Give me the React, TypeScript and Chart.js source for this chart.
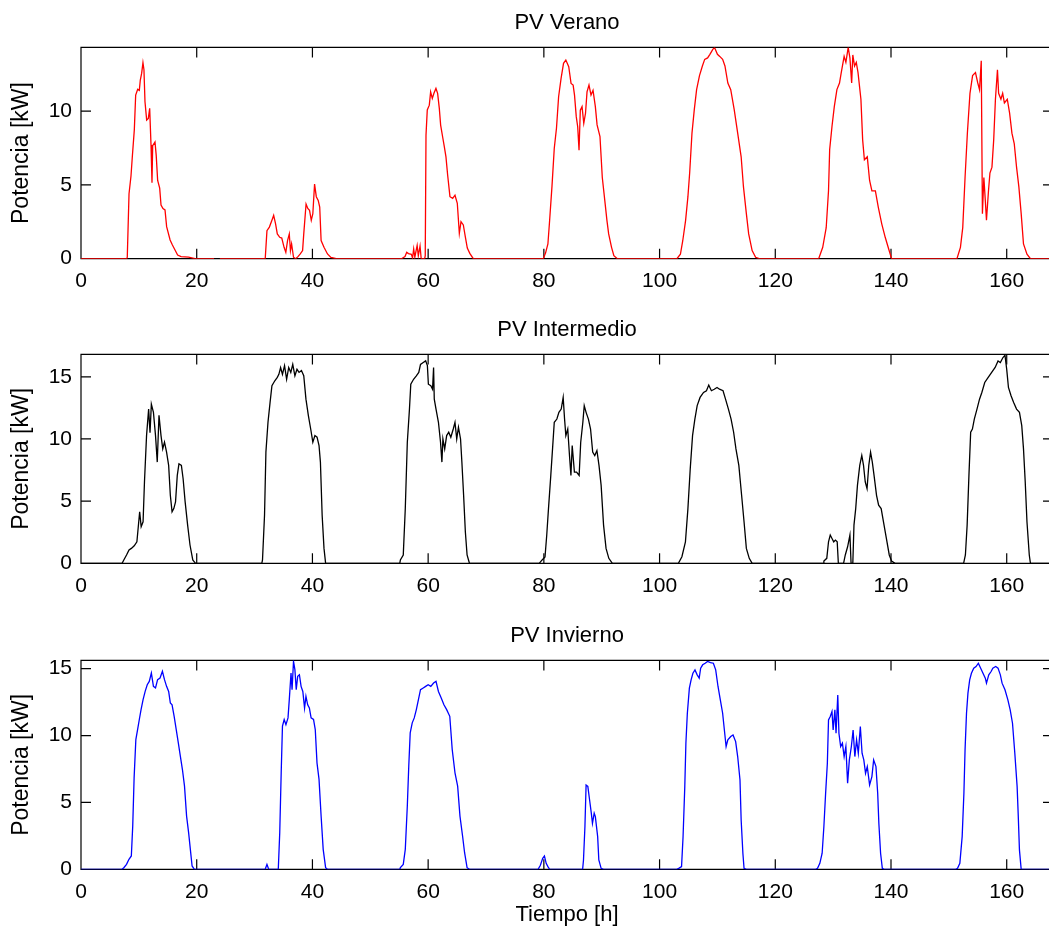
import React, { useEffect, useRef } from "react";
import { Chart, registerables } from "chart.js";

Chart.register(...registerables);

// ---------- DATA ----------
const xTickStep = 20;
const yTickStep = 5;
const xMax = 168;

const panelTitles = ["PV Verano", "PV Intermedio", "PV Invierno"];
const yLabel = "Potencia [kW]";
const xLabel = "Tiempo [h]";

const veranoHours = [0,7.9,8.0,8.3,8.64,8.87,9.22,9.45,9.8,10.08,10.25,10.48,10.71,10.88,11.06,11.35,11.64,11.87,12.1,12.27,12.39,12.79,13.0,13.25,13.6,13.83,14.17,14.52,14.8,15.4,15.8,16.25,16.7,17.3,18.6,19.7,23.0,23.5,24.0,31.84,32.14,32.56,33.0,33.3,33.63,33.93,34.35,34.7,35.1,35.4,35.7,36.0,36.2,36.4,36.73,37.1,37.5,37.9,38.3,38.5,38.9,39.2,39.5,39.8,40.07,40.37,40.67,41.0,41.26,41.5,42.0,42.6,43.2,44.1,55.4,56.0,56.3,56.6,57.1,57.3,57.5,57.7,58.1,58.3,58.6,58.8,59.4,59.5,59.63,59.85,60.2,60.43,60.72,61.0,61.35,61.64,61.93,62.16,62.5,62.8,63.08,63.37,63.77,64.24,64.64,65.04,65.39,65.68,66.08,66.42,66.77,67.2,67.8,79.9,80.3,80.7,81.0,81.4,81.8,82.18,82.55,82.97,83.4,83.8,84.3,84.7,85.06,85.3,85.6,85.85,86.08,86.3,86.6,86.9,87.2,87.46,87.8,88.15,88.5,88.9,89.2,89.7,90.1,90.6,90.9,91.2,91.7,92.1,92.7,103.0,103.6,104.0,104.5,104.9,105.2,105.6,106.0,106.4,106.9,107.4,107.8,108.3,108.7,109.2,109.5,110.0,110.4,110.9,111.3,111.8,112.3,112.9,113.5,114.1,114.5,115.0,115.4,116.0,116.6,117.2,127.5,128.2,128.8,129.2,129.4,129.8,130.2,130.65,131.1,131.4,131.9,132.2,132.6,132.9,133.2,133.4,133.7,134.0,134.3,134.8,135.1,135.4,135.9,136.3,136.7,137.3,137.8,138.4,139.0,139.6,140.1,151.4,152.0,152.4,152.8,153.2,153.65,154.1,154.6,155.0,155.3,155.6,155.8,156.05,156.3,156.5,156.85,157.1,157.45,157.75,158.05,158.4,158.6,159.0,159.3,159.6,160.1,160.5,160.9,161.3,161.7,162.1,162.5,162.9,163.5,164.1,168];
const veranoKW = [0,0,0.1,4.4,5.6,6.9,8.76,11.08,11.47,11.4,12.1,12.55,13.27,12.8,10.63,9.39,9.5,10.18,7.7,5.15,7.65,7.9,7.0,5.3,4.78,3.64,3.4,3.3,2.17,1.27,0.93,0.59,0.25,0.14,0.1,0,0,null,0,0,1.9,2.14,2.6,2.93,2.36,1.68,1.45,1.4,0.77,0.43,1.23,1.68,0.55,1.0,0.1,0,0.14,0.32,0.55,1.68,3.7,3.4,3.27,2.6,3.05,5.05,4.2,3.95,3.5,1.23,0.77,0.32,0.09,0,0,0.15,0.43,0.35,0.3,0.05,0.66,0.1,0.9,0.2,0.85,0,0,0.2,8.37,10.07,10.4,11.3,10.86,11.2,11.53,11.2,10.18,9.05,8.26,7.58,6.9,5.67,4.2,4.09,4.3,3.75,1.72,2.51,2.29,1.5,0.72,0.36,0,0,0.4,1.0,2.6,4.88,7.48,8.83,10.97,12.2,13.23,13.45,13.0,11.87,11.76,11.08,9.62,8.94,7.35,10.06,10.3,9.17,9.85,11.3,11.76,11.08,11.4,10.3,9.06,8.27,5.5,3.7,2.6,1.68,0.77,0.2,0,0,0.3,1.2,2.6,4.2,5.8,8.5,10.1,11.45,12.4,13.05,13.5,13.6,13.84,14.18,14.3,13.84,13.7,13.5,13.05,11.9,11.45,10.1,8.5,6.9,4.86,3.05,1.68,0.55,0.1,0,0,0.77,2.1,4.6,7.4,8.95,10.3,11.45,11.9,12.6,13.7,13.3,14.3,13.6,11.9,13.8,13.05,13.3,12.6,10.8,8.05,6.7,6.9,5.3,4.6,4.6,3.5,2.36,1.45,0.66,0,0,0.77,2.1,5.5,8.5,11.2,12.4,12.6,11.9,11.45,13.4,3.05,5.5,3.95,2.6,4.6,5.8,6.2,8.05,10.8,12.8,11.2,10.8,11.2,10.55,10.8,9.86,8.5,7.8,6.2,4.86,3.05,1.0,0.3,0,0];

const intermedioHours = [0,7.1,7.4,7.87,8.3,8.7,9.2,9.66,9.9,10.14,10.4,10.73,10.97,11.33,11.69,11.93,12.16,12.52,12.88,13.18,13.48,13.83,14.13,14.43,14.79,15.15,15.44,15.74,16.04,16.34,16.64,16.93,17.35,17.65,18.0,18.43,18.84,19.32,19.8,31.25,31.37,31.72,31.96,32.32,32.68,33.0,33.5,33.93,34.2,34.5,34.82,35.18,35.54,35.9,36.26,36.6,36.97,37.33,37.69,38.1,38.5,38.88,39.3,39.7,40.07,40.43,40.8,41.14,41.38,41.68,42.0,42.28,55.1,55.2,55.7,56.05,56.4,56.77,57.0,57.48,57.96,58.38,58.68,59.15,59.57,59.87,60.04,60.46,60.76,60.94,61.06,61.36,61.78,62.14,62.38,62.55,62.86,63.2,63.56,63.92,64.34,64.64,64.94,65.24,65.6,65.83,66.13,66.43,66.73,67.14,79.2,79.7,80.2,80.5,80.8,81.2,81.5,81.8,82.25,82.6,83.0,83.34,83.58,83.8,84.13,84.43,84.68,84.9,85.28,85.65,86.1,86.37,86.74,86.98,87.3,87.7,88.07,88.44,88.8,89.17,89.53,89.9,90.32,90.75,91.23,91.84,103.25,103.86,104.47,104.9,105.3,105.7,106.1,106.5,107.0,107.6,108.1,108.5,108.96,109.45,109.93,110.36,110.97,111.4,111.9,112.36,112.8,113.2,113.7,114.18,114.6,115.0,115.5,116.0,128.3,128.4,128.9,129.2,129.5,129.8,130.1,130.4,130.7,130.9,131.8,132.1,132.5,132.9,133.1,133.4,133.6,133.9,134.2,134.6,134.95,135.25,135.55,135.86,136.16,136.47,136.77,137.07,137.5,137.86,138.3,138.7,139.2,139.7,140.1,140.7,152.55,152.86,153.16,153.47,153.77,154.07,154.4,154.86,155.3,155.7,156.2,156.8,157.4,158.0,158.5,158.9,159.35,159.7,160.0,160.3,160.75,161.2,161.7,162.2,162.6,162.9,163.2,163.5,163.9,164.1,168];
const intermedioKW = [0,0,0.27,0.67,1.07,1.2,1.41,1.73,2.94,4.14,2.94,3.34,6.54,10.27,12.4,10.5,12.8,12.14,10.27,8.14,11.9,10.27,9.2,9.74,8.94,7.87,5.47,4.14,4.4,4.94,7.07,8.0,7.87,6.8,4.94,3.07,1.47,0.27,0,0,0.27,3.87,8.94,11.34,12.94,14.28,14.68,14.95,15.2,15.75,15.2,15.9,14.8,15.75,15.35,16.0,15.08,15.6,15.35,15.5,15.08,13.2,11.88,10.8,9.74,10.27,10.14,9.47,8.14,3.87,1.2,0,0,0.27,0.67,4.4,9.74,12.4,14.4,14.8,15.08,15.35,16.0,16.15,16.28,15.9,14.4,14.28,14.0,15.75,13.2,12.4,11.34,9.74,8.14,10.0,9.2,10.27,10.54,10.14,10.8,11.34,10.0,10.94,10.0,8.14,5.47,2.54,0.67,0,0,0.27,0.5,2.27,4.4,7.07,9.2,11.34,11.6,12.14,12.4,13.34,11.6,10.27,10.8,8.67,7.07,9.47,7.34,7.34,7.07,9.74,11.34,12.68,12.14,11.6,10.8,8.94,8.67,9.07,7.87,6.27,3.07,1.2,0.4,0,0,0.53,1.73,4.4,7.6,10.27,11.6,12.68,13.34,13.74,13.88,14.33,13.88,14.0,14.14,14.0,13.88,13.2,12.4,11.6,10.54,9.2,7.87,5.47,3.34,1.2,0.4,0,0,0.18,0.4,1.73,2.27,2.0,1.73,1.87,1.73,0,0,0.67,1.33,2.27,0,0,3.07,4.4,6.27,7.87,8.67,7.87,6.54,6.0,7.87,8.94,8.14,7.07,5.47,4.67,4.4,3.34,2.0,0.67,0.18,0,0,0.67,3.07,7.07,10.54,10.8,11.6,12.4,13.2,13.74,14.54,14.95,15.35,15.75,16.28,16.15,16.55,16.73,15.6,14.14,13.48,12.94,12.4,12.14,11.07,9.2,6.54,3.34,0.67,0,0];

const inviernoHours = [0,7.1,7.4,7.87,8.29,8.7,8.94,9.18,9.48,9.78,10.08,10.38,10.73,11.09,11.45,11.8,12.16,12.52,12.88,13.24,13.66,14.07,14.43,14.79,15.15,15.44,15.74,16.1,16.46,16.82,17.17,17.53,17.89,18.25,18.6,18.9,19.2,19.6,31.84,32.14,32.44,34.1,34.35,34.6,34.82,35.12,35.42,35.78,36.0,36.3,36.48,36.73,36.97,37.2,37.45,37.75,38.04,38.34,38.64,38.88,39.18,39.47,39.77,40.19,40.49,40.79,41.14,41.5,41.86,42.28,42.58,55.1,55.2,55.7,56.05,56.4,56.65,56.9,57.25,57.6,57.96,58.32,58.68,59.15,59.57,60.0,60.46,60.94,61.36,61.78,62.26,62.73,63.2,63.74,64.16,64.64,65.1,65.5,65.95,66.3,66.73,67.14,79.0,79.4,79.8,80.1,80.4,80.7,81.0,86.7,86.85,87.1,87.3,87.6,87.9,88.2,88.4,88.7,88.9,89.3,89.5,89.9,90.3,103.0,103.3,103.8,104.06,104.36,104.55,104.8,105.15,105.45,105.76,106.12,106.5,106.85,107.1,107.45,107.88,108.3,108.8,109.3,109.7,110.1,110.5,110.9,111.2,111.5,111.8,112.3,112.7,113.15,113.5,113.9,114.1,114.4,114.6,115.0,127.0,127.3,127.7,128.1,128.4,128.7,129.0,129.2,129.5,129.8,130.0,130.3,130.5,130.8,131.0,131.3,131.6,131.9,132.2,132.5,132.8,133.15,133.45,133.75,134.05,134.35,134.7,135.0,135.3,135.6,135.9,136.3,136.7,137.0,137.4,137.7,137.9,138.2,138.5,138.8,151.2,151.5,151.9,152.3,152.6,152.8,153.05,153.3,153.6,153.9,154.3,154.7,155.1,155.5,155.9,156.3,156.5,156.9,157.3,157.6,158.1,158.5,158.9,159.2,159.7,160.2,160.6,161.0,161.4,161.8,162.0,162.2,162.5,168];
const inviernoKW = [0,0,0.12,0.37,0.75,1.0,3.23,6.84,9.7,10.45,11.2,11.94,12.69,13.3,13.8,14.05,14.68,13.68,13.56,14.18,14.3,14.8,14.18,13.68,13.3,12.44,12.3,11.44,10.45,9.45,8.46,7.46,6.22,3.98,2.74,1.49,0.25,0,0,0.37,0,0,2.74,7.2,10.7,11.2,10.82,11.32,12.69,14.68,13.43,15.55,14.93,13.43,14.43,14.55,13.68,13.3,12.06,12.94,12.3,12.06,11.32,11.2,10.45,7.96,6.72,3.98,1.49,0.12,0,0,0.12,0.37,1.49,4.73,7.71,10.2,10.95,11.32,11.94,12.69,13.43,13.56,13.68,13.8,13.68,13.93,14.05,13.3,12.81,12.3,11.94,11.44,8.96,7.21,6.22,3.98,2.49,1.24,0.12,0,0,0.3,0.82,1.0,0.45,0.2,0,0,0.7,3.2,6.3,6.2,5.2,4.2,3.44,4.2,3.94,2.44,0.7,0.07,0,0,0.07,0.2,2.44,6.2,9.43,11.67,13.54,14.16,14.66,14.91,14.54,14.29,15.04,15.29,15.41,15.54,15.46,15.41,14.91,13.67,12.67,11.67,10.42,9.18,9.68,9.93,10.05,9.55,8.43,6.68,3.69,1.2,0.07,0,0,0.07,0.45,1.2,3.2,5.69,7.93,11.17,11.42,11.8,10.42,11.92,10.17,13.04,10.17,9.18,9.43,8.43,9.18,6.43,8.18,9.18,10.42,8.43,9.68,8.68,10.67,8.68,8.18,7.18,7.68,6.31,6.93,8.18,7.68,5.69,3.44,1.2,0.07,0,0,0.07,0.45,2.44,5.69,8.93,11.67,13.17,14.16,14.66,15.04,15.16,15.41,15.04,14.66,14.29,13.92,14.54,14.79,15.04,15.16,15.04,14.54,13.92,13.42,12.67,11.92,10.92,8.68,6.18,3.94,1.45,0,0];

const seriesColors = ["#ff0000", "#000000", "#0000ff"];
const yMaxValues = [14.31, 16.8, 15.62];

// ---------- STYLE / LAYOUT ----------
const FONT = "'Liberation Sans', Arial, Helvetica, sans-serif";
const CANVAS_W = 1060;

const framePlugin = {
  id: "matlabFrame",
  beforeDatasetsDraw(chart: any) {
    const { ctx, chartArea, scales } = chart;
    const { left, right, top, bottom } = chartArea;
    const x = scales.x;
    const y = scales.y;
    const L = 10;
    ctx.save();
    ctx.strokeStyle = "#000";
    ctx.lineWidth = 1.2;
    ctx.beginPath();
    ctx.rect(left, top, right - left, bottom - top);
    x.ticks.forEach((t: any) => {
      const px = x.getPixelForValue(t.value);
      ctx.moveTo(px, bottom);
      ctx.lineTo(px, bottom - L);
      ctx.moveTo(px, top);
      ctx.lineTo(px, top + L);
    });
    y.ticks.forEach((t: any) => {
      const py = y.getPixelForValue(t.value);
      ctx.moveTo(left, py);
      ctx.lineTo(left + L, py);
      ctx.moveTo(right, py);
      ctx.lineTo(right - L, py);
    });
    ctx.stroke();
    ctx.restore();
  },
};

type PanelProps = {
  idx: number;
  hours: number[];
  kw: (number | null)[];
  top: number;
  height: number;
  xAxisHeight: number;
  showXTitle: boolean;
};

function Panel({ idx, hours, kw, top, height, xAxisHeight, showXTitle }: PanelProps) {
  const ref = useRef<HTMLCanvasElement | null>(null);
  useEffect(() => {
    if (!ref.current) return;
    const data = hours.map((h, i) => ({ x: h, y: kw[i] }));
    const chart = new Chart(ref.current, {
      type: "line",
      data: {
        datasets: [
          {
            data: data as any,
            borderColor: seriesColors[idx],
            borderWidth: 1.3,
            pointRadius: 0,
            tension: 0,
            fill: false,
            spanGaps: false,
          },
        ],
      },
      options: {
        animation: false,
        responsive: false,
        devicePixelRatio: 1,
        layout: { padding: { left: 0, right: 7, top: 0, bottom: 0 } },
        plugins: {
          legend: { display: false },
          tooltip: { enabled: false },
          title: {
            display: true,
            text: panelTitles[idx],
            color: "#000",
            fullSize: false,
            font: { family: FONT, size: 22, weight: "normal" as any },
            padding: { top: 10, bottom: 11 },
          },
        },
        scales: {
          x: {
            type: "linear",
            min: 0,
            max: xMax,
            grid: { display: false, drawTicks: false },
            border: { display: false },
            ticks: {
              stepSize: xTickStep,
              includeBounds: false,
              autoSkip: false,
              maxRotation: 0,
              color: "#000",
              font: { family: FONT, size: 21 },
              padding: 10,
            },
            title: {
              display: showXTitle,
              text: xLabel,
              color: "#000",
              font: { family: FONT, size: 22 },
              padding: { top: 0, bottom: 4 },
            },
            afterFit: (s: any) => {
              s.height = xAxisHeight;
            },
          },
          y: {
            type: "linear",
            min: 0,
            max: yMaxValues[idx],
            grid: { display: false, drawTicks: false },
            border: { display: false },
            ticks: {
              stepSize: yTickStep,
              includeBounds: false,
              color: "#000",
              font: { family: FONT, size: 21 },
              padding: 9,
            },
            title: {
              display: true,
              text: yLabel,
              color: "#000",
              font: { family: FONT, size: 23 },
              padding: { top: 8, bottom: 0 },
            },
            afterFit: (s: any) => {
              s.width = 81;
            },
          },
        },
      },
      plugins: [framePlugin],
    });
    return () => chart.destroy();
  }, []);
  return (
    <canvas
      ref={ref}
      width={CANVAS_W}
      height={height}
      style={{ position: "absolute", left: 0, top, width: CANVAS_W, height }}
    />
  );
}

export default function App() {
  return (
    <div
      style={{
        position: "fixed",
        left: 0,
        top: 0,
        width: 1049,
        height: 932,
        overflow: "hidden",
        background: "#fff",
      }}
    >
      <Panel idx={0} hours={veranoHours} kw={veranoKW} top={0} height={300} xAxisHeight={41.3} showXTitle={false} />
      <Panel idx={1} hours={intermedioHours} kw={intermedioKW} top={307} height={300} xAxisHeight={43.7} showXTitle={false} />
      <Panel idx={2} hours={inviernoHours} kw={inviernoKW} top={613} height={319} xAxisHeight={62.7} showXTitle={true} />
    </div>
  );
}
